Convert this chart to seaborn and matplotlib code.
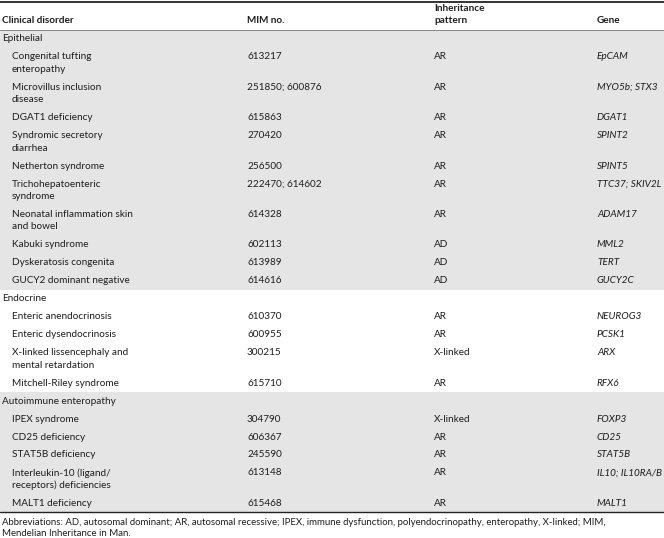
import matplotlib
matplotlib.use("Agg")
import matplotlib.pyplot as plt
import seaborn as sns

# table content
groups = ["Epithelial", "Endocrine", "Autoimmune enteropathy"]
group_of_row = [0] * 10 + [1] * 4 + [2] * 5
disorders = [
    "Congenital tufting\nenteropathy",
    "Microvillus inclusion\ndisease",
    "DGAT1 deficiency",
    "Syndromic secretory\ndiarrhea",
    "Netherton syndrome",
    "Trichohepatoenteric\nsyndrome",
    "Neonatal inflammation skin\nand bowel",
    "Kabuki syndrome",
    "Dyskeratosis congenita",
    "GUCY2 dominant negative",
    "Enteric anendocrinosis",
    "Enteric dysendocrinosis",
    "X-linked lissencephaly and\nmental retardation",
    "Mitchell-Riley syndrome",
    "IPEX syndrome",
    "CD25 deficiency",
    "STAT5B deficiency",
    "Interleukin-10 (ligand/\nreceptors) deficiencies",
    "MALT1 deficiency",
]
mim_no = ["613217", "251850; 600876", "615863", "270420", "256500",
          "222470; 614602", "614328", "602113", "613989", "614616",
          "610370", "600955", "300215", "615710",
          "304790", "606367", "245590", "613148", "615468"]
inheritance = ["AR", "AR", "AR", "AR", "AR", "AR", "AR", "AD", "AD", "AD",
               "AR", "AR", "X-linked", "AR",
               "X-linked", "AR", "AR", "AR", "AR"]
genes = ["EpCAM", "MYO5b; STX3", "DGAT1", "SPINT2", "SPINT5",
         "TTC37; SKIV2L", "ADAM17", "MML2", "TERT", "GUCY2C",
         "NEUROG3", "PCSK1", "ARX", "RFX6",
         "FOXP3", "CD25", "STAT5B", "IL10; IL10RA/B", "MALT1"]
headers = ["Clinical disorder", "MIM no.", "Inheritance\npattern", "Gene"]
footnote = ("Abbreviations: AD, autosomal dominant; AR, autosomal recessive; IPEX, immune dysfunction, "
            "polyendocrinopathy, enteropathy, X-linked; MIM,\nMendelian Inheritance in Man.")

sns.set_theme(style="white")
plt.rcParams["font.family"] = ["Lato", "DejaVu Sans"]

W, H = 664, 538
fig = plt.figure(figsize=(W / 100, H / 100), dpi=100)
ax = fig.add_axes([0, 0, 1, 0.999])
ax.set_xlim(0, W)
ax.set_ylim(H, 0)
ax.axis("off")

fs = 7.2
col_x = [2, 247, 434, 597]
indent = 10
row_h = 18.0
line_h = 12.4
txt_color = "#1e1e1e"
band = "#e5e5e5"


def put(x, y, s, **kw):
    for k, part in enumerate(s.split("\n")):
        ax.text(x, y + k * line_h, part, fontsize=fs, color=txt_color,
                va="center", ha="left", **kw)


# header
ax.axhline(1, color="#222222", lw=1.3)
for x, h in zip(col_x, headers):
    n = h.count("\n")
    put(x, 20 - n * line_h, h, fontweight="bold")

y = 29.5
ax.axhline(y, color="#777777", lw=0.6)

for g, gname in enumerate(groups):
    idx = [i for i, gr in enumerate(group_of_row) if gr == g]
    heights = [row_h + line_h * disorders[i].count("\n") for i in idx]
    top = y
    bottom = top + row_h + sum(heights)
    if g % 2 == 0:
        ax.axhspan(top, bottom, color=band, lw=0, zorder=0)
    put(col_x[0], y + 9, gname)
    y += row_h
    for i, h in zip(idx, heights):
        put(col_x[0] + indent, y + 9, disorders[i])
        put(col_x[1], y + 9, mim_no[i])
        put(col_x[2], y + 9, inheritance[i])
        put(col_x[3], y + 9, genes[i], style="italic")
        y += h

ax.axhline(y, color="#222222", lw=1.0)
for k, part in enumerate(footnote.split("\n")):
    ax.text(col_x[0], y + 10 + k * 10.8, part, fontsize=6.95, color=txt_color,
            va="center", ha="left")

fig.savefig("out.png", dpi=100)
